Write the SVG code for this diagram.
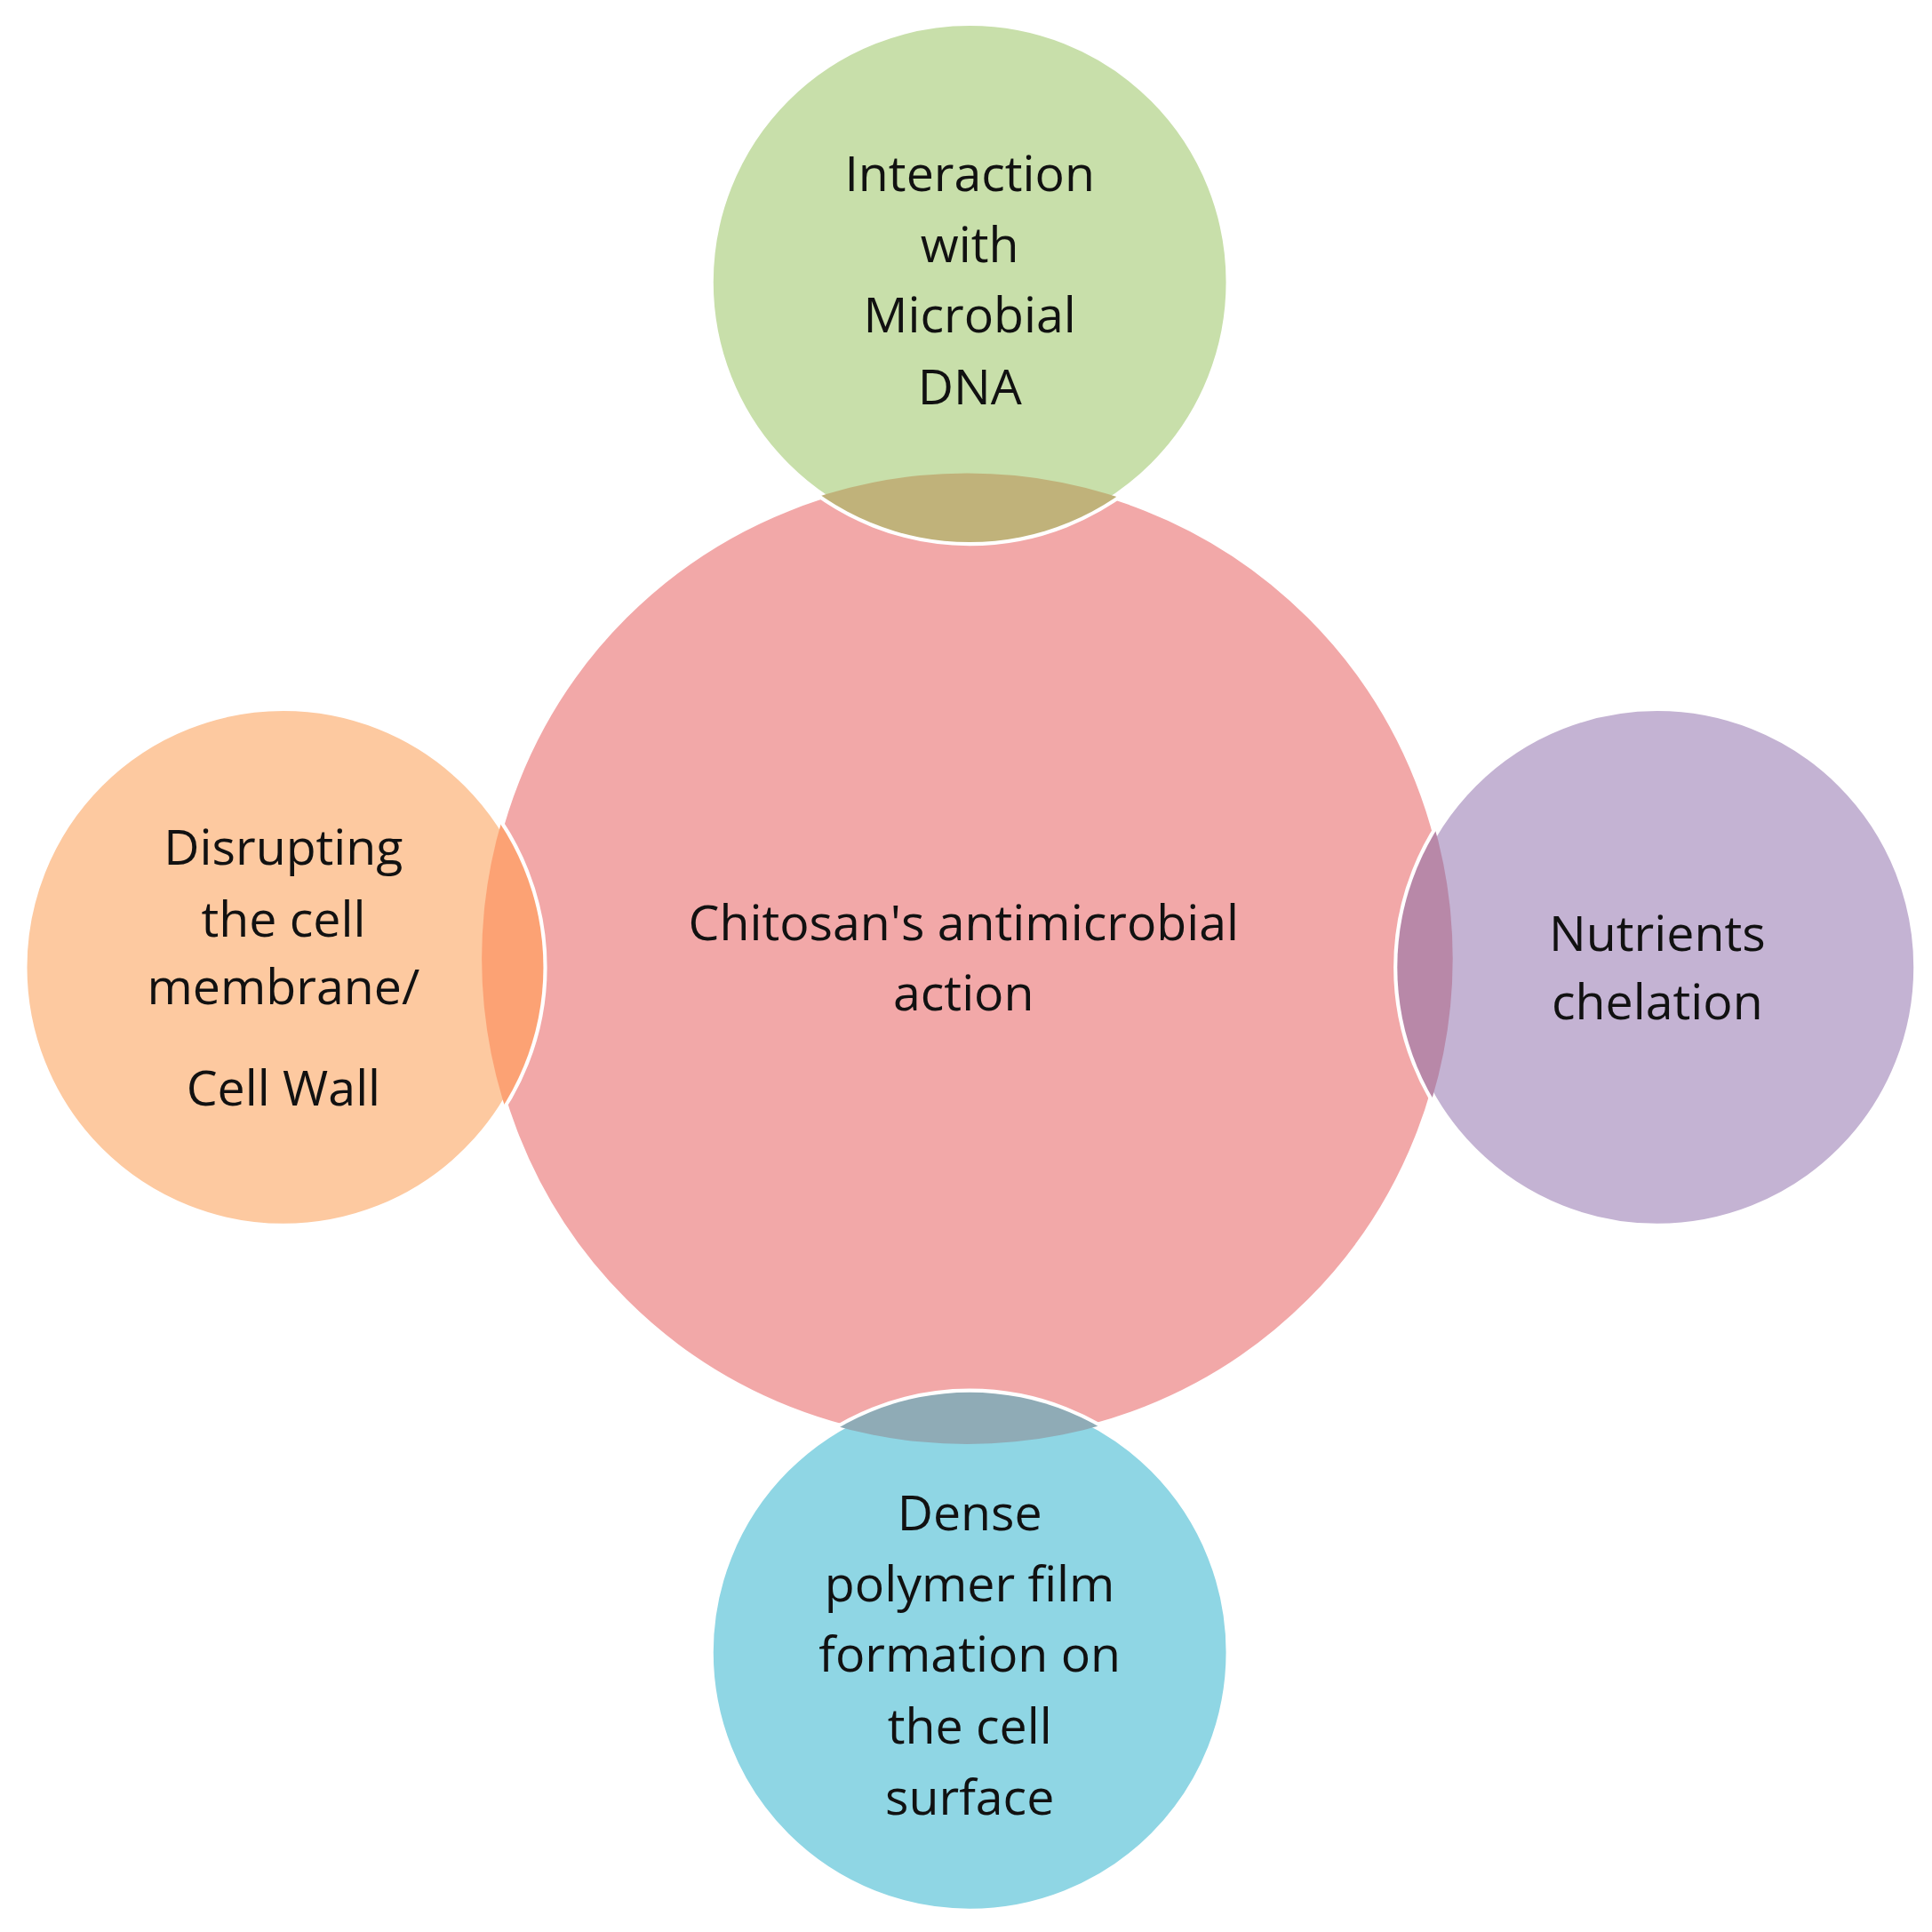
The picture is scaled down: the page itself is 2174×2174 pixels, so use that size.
<svg xmlns="http://www.w3.org/2000/svg" width="2174" height="2174" viewBox="0 0 2174 2174">
<style>
.c{stroke:#fff;stroke-width:6}
text{font-family:"Open Sans","Noto Sans",sans-serif;font-size:40px;fill:#111;text-anchor:middle}
</style>
<defs><clipPath id="cc"><circle cx="785" cy="778" r="394"/></clipPath></defs>
<rect width="2174" height="2174" fill="#fff"/>
<g transform="scale(1.3865)">
<g id="center"><circle class="c" cx="785" cy="778" r="394" fill="#f2a8a8"/>
<text x="782" y="763">Chitosan's antimicrobial</text><text x="782" y="820">action</text></g>
<g id="top"><circle class="c" cx="787" cy="229" r="211" fill="#c8dfaa"/>
<circle cx="787" cy="229" r="211" fill="#c0b27a" clip-path="url(#cc)"/>
<text x="787" y="155">Interaction</text><text x="787" y="213">with</text><text x="787" y="270">Microbial</text><text x="787" y="328">DNA</text></g>
<g id="left"><circle class="c" cx="230" cy="785" r="211" fill="#fdc9a0"/>
<circle cx="230" cy="785" r="211" fill="#fca274" clip-path="url(#cc)"/>
<text x="230" y="702">Disrupting</text><text x="230" y="760">the cell</text><text x="230" y="815">membrane/</text><text x="230" y="897">Cell Wall</text></g>
<g id="right"><circle class="c" cx="1345" cy="785" r="211" fill="#c4b3d3"/>
<circle cx="1345" cy="785" r="211" fill="#b888a8" clip-path="url(#cc)"/>
<text x="1345" y="772">Nutrients</text><text x="1345" y="827">chelation</text></g>
<g id="bottom"><circle class="c" cx="787" cy="1341" r="211" fill="#8fd6e4"/>
<circle cx="787" cy="1341" r="211" fill="#8fabb6" clip-path="url(#cc)"/>
<text x="787" y="1242">Dense</text><text x="787" y="1300">polymer film</text><text x="787" y="1357">formation on</text><text x="787" y="1415">the cell</text><text x="787" y="1473">surface</text></g>
<g id="connectors"/>
</g>
</svg>
